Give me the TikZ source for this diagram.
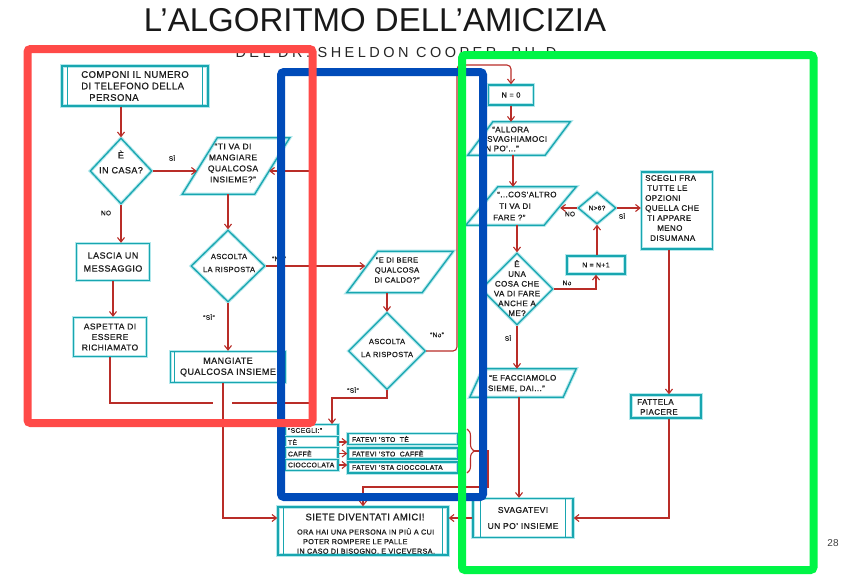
\documentclass[tikz,border=0pt]{standalone}
\usepackage{fontspec}
\setmainfont{Liberation Sans}
\newfontfamily\hand{Liberation Sans}[LetterSpace=5, FakeBold=0.8]
\newfontfamily\handwide{Liberation Sans}[LetterSpace=24]
\usetikzlibrary{arrows.meta,shapes.geometric,decorations.pathreplacing,calc}
\definecolor{teal1}{HTML}{18A6B0}
\definecolor{glow}{HTML}{B4E8EC}
\definecolor{conred}{HTML}{B92D28}
\definecolor{ink}{HTML}{1E1E1E}
\definecolor{hlred}{HTML}{FF4A48}
\definecolor{hlblue}{HTML}{004BB9}
\definecolor{hlgreen}{HTML}{00F546}
\newcommand\fs[2]{\fontsize{#1}{#2}\selectfont}
\newcommand\drawpara[2]{\draw[outl] ([xshift=#2]#1.north west) -- ([xshift=#2]#1.north east) -- ([xshift=-#2]#1.south east) -- ([xshift=-#2]#1.south west) -- cycle;}
\newcommand\bars[2]{\draw[teal1, line width=1.1pt] ([xshift=#2]#1.north west) -- ([xshift=#2]#1.south west) ([xshift=-#2]#1.north east) -- ([xshift=-#2]#1.south east);}
\begin{document}
\begin{tikzpicture}[x=1pt,y=-1pt,
  outl/.style={draw=teal1, line width=1.3pt, preaction={draw=glow, line width=3.4pt}},
  txt/.style={font=\hand, text=ink, inner sep=0pt, align=center},
  boxn/.style={outl, txt, rectangle},
  dia/.style={outl, diamond, inner sep=0pt},
  holder/.style={inner sep=0pt},
  conn/.style={draw=conred, line width=1.1pt},
  arr/.style={conn, -{Straight Barb[length=4.5pt,width=7pt]}},
  lbl/.style={txt, font=\hand\fs{6.5}{7}},
  hl/.style={line width=8pt, rounded corners=3pt},
]
\useasboundingbox (0,0) rectangle (849,574);
\fill[white] (0,0) rectangle (849,574);

% titles
\node[inner sep=0pt, font=\fs{33}{36}, text=black!90] (title) at (375,20) {L’ALGORITMO DELL’AMICIZIA};
\node[inner sep=0pt, font=\handwide\fs{14.5}{15}, text=black!85] (subtitle) at (396,53) {DEL DR. SHELDON COOPER, PH.D};

% ---------- left column ----------
\node[boxn, minimum width=146, minimum height=40, align=left, font=\hand\fs{9.5}{11.5}] (n1) at (135,86) {COMPONI IL NUMERO\\DI TELEFONO DELLA\\\hspace*{8pt}PERSONA};
\bars{n1}{6pt}

\node[dia, minimum width=62, minimum height=66] (d1) at (121,171) {};
\node[txt, font=\hand\fs{9}{15}] (d1t) at (121,162) {È\\IN CASA?};

\node[holder, minimum width=72, minimum height=56] (p1) at (236,166) {};
\drawpara{p1}{17.5pt}
\node[txt, font=\hand\fs{8.5}{11}] (p1t) at (233,163) {“TI VA DI\\MANGIARE\\QUALCOSA\\INSIEME?”};

\node[dia, minimum width=74, minimum height=72] (d2) at (228,266) {};
\node[txt, font=\hand\fs{7.5}{13}] (d2t) at (229,263) {ASCOLTA\\LA RISPOSTA};

\node[boxn, minimum width=73, minimum height=37, font=\hand\fs{9}{13}] (b2) at (113,262) {LASCIA UN\\MESSAGGIO};
\node[boxn, minimum width=73, minimum height=39, font=\hand\fs{8.5}{10.5}] (b3) at (110,337) {ASPETTA DI\\ESSERE\\RICHIAMATO};
\node[boxn, minimum width=115, minimum height=31, font=\hand\fs{9}{11}] (b4) at (228,367) {MANGIATE\\QUALCOSA INSIEME};
\bars{b4}{5pt}

% ---------- middle column ----------
\node[holder, minimum width=75, minimum height=41] (p2) at (400,272) {};
\drawpara{p2}{15.5pt}
\node[txt, font=\hand\fs{7.5}{10}] (p2t) at (397,270) {“E DI BERE\\QUALCOSA\\DI CALDO?”};

\node[dia, minimum width=77, minimum height=77] (d3) at (387,351) {};
\node[txt, font=\hand\fs{7.5}{13}] (d3t) at (387,348) {ASCOLTA\\LA RISPOSTA};

\node[boxn, minimum width=53, minimum height=11.5, text width=47pt, align=left, font=\hand\fs{6.8}{8}] (r0) at (311.5,430.5) {“SCEGLI:”};
\node[boxn, minimum width=53, minimum height=11.5, text width=47pt, align=left, font=\hand\fs{6.8}{8}] (r1) at (311.5,442) {TÈ};
\node[boxn, minimum width=53, minimum height=11.5, text width=47pt, align=left, font=\hand\fs{6.8}{8}] (r2) at (311.5,453.5) {CAFFÈ};
\node[boxn, minimum width=53, minimum height=11.5, text width=47pt, align=left, font=\hand\fs{6.8}{8}] (r3) at (311.5,465) {CIOCCOLATA};

\node[boxn, minimum width=110, minimum height=11, text width=102pt, align=left, font=\hand\fs{6.8}{8}] (f1) at (403,439) {FATEVI ’STO\ \ TÈ};
\node[boxn, minimum width=110, minimum height=11, text width=102pt, align=left, font=\hand\fs{6.8}{8}] (f2) at (403,453.5) {FATEVI ’STO\ \ CAFFÈ};
\node[boxn, minimum width=110, minimum height=11, text width=102pt, align=left, font=\hand\fs{6.8}{8}] (f3) at (403,467.5) {FATEVI ’STA CIOCCOLATA};

\node[boxn, minimum width=170, minimum height=48] (s) at (363,531) {};
\bars{s}{6pt}
\node[txt, font=\hand\fs{9.5}{10}] (st) at (365,517) {SIETE DIVENTATI AMICI!};
\node[txt, font=\hand\fs{7.2}{9.6}, align=left] (sb) at (366,541) {ORA HAI UNA PERSONA IN PIÙ A CUI\\\hspace*{6pt}POTER ROMPERE LE PALLE\\IN CASO DI BISOGNO. E VICEVERSA.};

% ---------- right column ----------
\node[boxn, minimum width=45, minimum height=20, font=\hand\fs{7.5}{8}] (n0) at (511,95) {N = 0};

\node[holder, minimum width=77, minimum height=33] (p3) at (519,138.5) {};
\drawpara{p3}{12.5pt}
\node[txt, font=\hand\fs{8}{9.5}, align=left, anchor=west] (p3t) at (479,139) {\hspace*{13pt}“ALLORA\\\hspace*{8pt}SVAGHIAMOCI\\UN PO’...”};

\node[holder, minimum width=78, minimum height=38] (p4) at (521,206) {};
\drawpara{p4}{16pt}
\node[txt, font=\hand\fs{8}{11.5}, align=left, anchor=west] (p4t) at (493,206) {\hspace*{4pt}“...COS’ALTRO\\\hspace*{6pt}TI VA DI\\FARE ?”};

\node[dia, minimum width=38, minimum height=32] (dN) at (597,208) {};
\node[txt, font=\hand\fs{6.5}{7}] (dNt) at (597,208) {N>6?};

\node[boxn, minimum width=58, minimum height=18, font=\hand\fs{7}{8}] (nn) at (596,265) {N = N+1};

\node[boxn, minimum width=71, minimum height=77] (sc) at (677,210.5) {};
\node[txt, font=\hand\fs{8}{10}, align=left, anchor=north west] (sct) at (645,175) {SCEGLI FRA\\\hspace*{2pt}TUTTE LE\\OPZIONI\\QUELLA CHE\\\hspace*{2pt}TI APPARE\\\hspace*{12pt}MENO\\\hspace*{5pt}DISUMANA};

\node[boxn, minimum width=70, minimum height=23] (fp) at (666,406.5) {};
\node[txt, font=\hand\fs{8}{10}, align=left, anchor=west] (fpt) at (637,407) {FATTELA\\\hspace*{3pt}PIACERE};

\node[dia, minimum width=72, minimum height=72] (d4) at (517,289) {};
\node[txt, font=\hand\fs{8}{9.8}] (d4t) at (517,288) {È\\UNA\\COSA CHE\\VA DI FARE\\ANCHE A\\ME?};

\node[holder, minimum width=93, minimum height=28] (p5) at (523,383) {};
\drawpara{p5}{6.5pt}
\node[txt, font=\hand\fs{8}{10.5}, align=left, anchor=west] (p5t) at (479,383.5) {\hspace*{10pt}“E FACCIAMOLO\\INSIEME, DAI...”};

\node[boxn, minimum width=100, minimum height=39] (v) at (523,518) {};
\bars{v}{8pt}
\node[txt, font=\hand\fs{8.5}{16}] (vt) at (523,518) {SVAGATEVI\\UN PO’ INSIEME};

% ---------- labels ----------
\node[lbl] (l1) at (172,158) {SÌ};
\node[lbl] (l2) at (106,213) {NO};
\node[lbl] (l3) at (279,259) {“No”};
\node[lbl] (l4) at (209,317) {“SÌ”};
\node[lbl] (l5) at (437,335) {“No”};
\node[lbl] (l6) at (353,390) {“SÌ”};
\node[lbl] (l7) at (570,214) {NO};
\node[lbl] (l8) at (622,216) {SÌ};
\node[lbl] (l9) at (567,283) {No};
\node[lbl] (l10) at (508,338) {SÌ};

\node[inner sep=0pt, font=\fs{10}{12}, text=black!75] (pg) at (833,543) {28};

% ---------- connectors ----------
\coordinate (j1) at (213,403);
\coordinate (j2) at (232,403);
\coordinate (j3) at (310,403);
\coordinate (j4) at (310,171);
\coordinate (c1) at (457,65);
\coordinate (k1) at (332,398);
\coordinate (bra) at (467,429);
\coordinate (brb) at (467,473);
\coordinate (brtip) at (474,451);
\coordinate (c2) at (488,487);

\draw[arr] (d1.north |- n1.south) -- (d1.north);
\draw[arr, shorten >=3pt] (d1.east) -- (d1.east -| p1.west);
\draw[arr] (d2.north |- p1.south) -- (d2.north);
\draw[arr, shorten >=-3pt] (d2.east) -- (d2.east -| p2.west);
\draw[arr] (d2.south) -- (d2.south |- b4.north);
\draw[arr] (d1.south) -- (d1.south |- b2.north);
\draw[arr] (b2.south) -- (b2.south |- b3.north);
\draw[conn] (b3.south) |- (j1);
\draw[arr] (j2) -- (j3) -- (j4) -- ([xshift=-3pt]j4 -| p1.east);
\draw[arr] ([xshift=-5pt]b4.south) |- ([yshift=13pt]s.west);

\draw[arr] (d3.north |- p2.south) -- (d3.north);
\draw[arr, rounded corners=4pt] (d3.east) -| (c1) -| (n0.north);
\draw[arr] (d3.south) |- (k1) -- (k1 |- r0.north);
\draw[arr] (r1.east) -- (r1.east -| f1.west);
\draw[arr] (r2.east) -- (r2.east -| f2.west);
\draw[arr] (r3.east) -- (r3.east -| f3.west);
\draw[conn, decorate, decoration={brace, amplitude=7pt}] (bra) -- (brb);
\draw[arr] (brtip) -| (c2) -| (s.north);
\draw[arr] (v.west) -- (v.west -| s.east);

\draw[arr] (n0.south) -- (n0.south |- p3.north);
\draw[arr] ([xshift=-6pt]p3.south) -- ([xshift=-6pt]p3.south |- p4.north);
\draw[arr] (d4.north |- p4.south) -- (d4.north);
\draw[arr] (dN.west) -- (dN.west -| p4.east);
\draw[arr] (dN.east) -- (dN.east -| sc.west);
\draw[arr] (dN.south |- nn.north) -- (dN.south);
\draw[arr] (d4.east) -| (nn.south);
\draw[arr] (d4.south) -- (d4.south |- p5.north);
\draw[arr] ([xshift=-4pt]v.north |- p5.south) -- ([xshift=-4pt]v.north);
\draw[arr] ([xshift=3pt]fp.north |- sc.south) -- ([xshift=3pt]fp.north);
\draw[arr] ([xshift=3pt]fp.south) |- (v.east);

% ---------- highlight frames ----------
\draw[hlblue, hl] (281,72) rectangle (483,497);
\draw[hlred, hl] (27.5,49) rectangle (312.5,423);
\draw[hlgreen, hl] (462,55) rectangle (813.5,570);
\end{tikzpicture}
\end{document}
